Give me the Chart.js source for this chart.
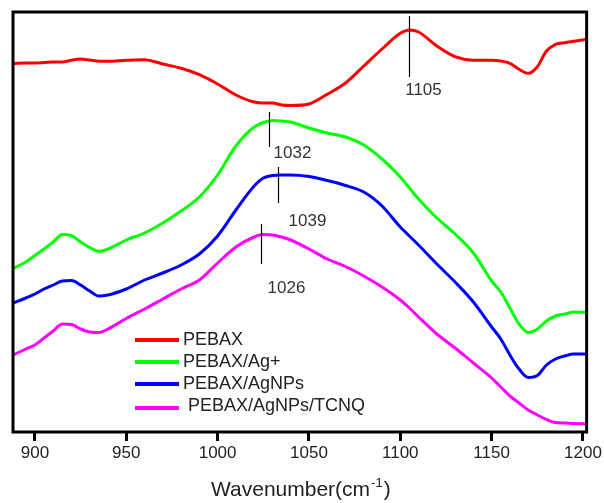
<!DOCTYPE html>
<html>
<head>
<meta charset="utf-8">
<script src="https://cdn.jsdelivr.net/npm/chart.js@4"></script>
<style>
  body { margin: 0; background: #fff; }
  #wrap { width: 604px; height: 503px; }
</style>
</head>
<body>
<div id="wrap"><canvas id="ftir" width="604" height="503"></canvas></div>
<script>
// wavenumbers (cm-1) shared by all four spectra
var wavenumbers = [888, 895, 900, 905, 910, 915, 920, 925, 930, 935, 940, 950, 960, 970, 980, 990,
  1000, 1010, 1020, 1025, 1030, 1035, 1040, 1050, 1060, 1070, 1080, 1090, 1100, 1105, 1110,
  1120, 1130, 1140, 1150, 1155, 1160, 1165, 1170, 1175, 1180, 1185, 1190, 1195, 1202];

// stacked absorbance (arb. units, offset per curve)
var pebax = [368.5, 369, 369, 369.5, 370, 370, 371.7, 373, 372, 370.7, 370.7, 371.7, 372.3, 368, 363.7, 357.3,
  348, 337, 330, 329, 329, 327, 326.5, 328, 337.7, 349, 366, 383, 398.7, 402, 400,
  386, 375.3, 371.7, 371.7, 371, 368.7, 362.7, 358.7, 365.3, 381, 387.7, 389.3, 390.7, 392.7];
var pebaxAg = [163.7, 170, 176.5, 183, 190, 197.5, 196.5, 190, 184.5, 180.5, 183, 192, 199, 209, 221, 235,
  257, 286, 305, 309.5, 311.5, 311, 310, 304, 299, 295, 287, 273, 255, 244, 233,
  214, 198, 179, 151, 140, 124, 108, 99.5, 103, 111, 116, 118, 120, 119.5];
var pebaxAgNPs = [129, 134, 138, 143, 147, 151, 151.5, 147, 141, 136, 137, 143, 152, 159, 167, 178,
  196, 222, 246, 254, 256.5, 257, 257, 255.5, 251.5, 246.5, 240, 226, 205, 196, 187,
  168, 150, 130, 105, 93, 77, 63, 54.5, 56.5, 67, 73, 76, 78, 78];
var pebaxTcnq = [77, 83, 87, 94, 101, 108, 107.5, 103, 100, 99.5, 103, 113.5, 123, 133, 143, 152,
  169, 185, 195, 197.5, 197, 195, 192, 183, 173, 165.5, 156, 145, 132, 124, 115,
  98, 84, 69, 54, 45, 36, 29, 22, 17, 12.5, 9.5, 9, 8.5, 8];

var seriesNames = ['PEBAX', 'PEBAX/Ag+', 'PEBAX/AgNPs', ' PEBAX/AgNPs/TCNQ'];
var seriesColors = ['#ff0000', '#00ff00', '#0000ff', '#ff00ff'];
var tickValues = [900, 950, 1000, 1050, 1100, 1150, 1200];

// peak markers: where the tick is drawn, its label, and the span it covers
var peakAt = [1105, 1028, 1033, 1024];
var peakLabels = ['1105', '1032', '1039', '1026'];
var peakTop = [416, 320, 265, 208];
var peakBottom = [355, 285, 229, 168];

var FONT = '"Liberation Sans", Arial, sans-serif';

function toPoints(ys) {
  return ys.map(function (y, i) { return { x: wavenumbers[i], y: y }; });
}

var allSeries = [pebax, pebaxAg, pebaxAgNPs, pebaxTcnq];
var datasets = allSeries.map(function (ys, i) {
  return {
    label: seriesNames[i],
    data: toPoints(ys),
    borderColor: seriesColors[i],
    backgroundColor: seriesColors[i],
    borderWidth: 3,
    pointRadius: 0,
    cubicInterpolationMode: 'monotone',
    fill: false
  };
});

var extras = {
  id: 'extras',
  afterDatasetsDraw: function (chart) {
    var c = chart.ctx, a = chart.chartArea;
    c.save();
    c.strokeStyle = '#000';
    c.lineWidth = 3;
    c.strokeRect(a.left, a.top, a.right - a.left, a.bottom - a.top);
    c.restore();
  },
  afterDraw: function (chart) {
    var c = chart.ctx, a = chart.chartArea;
    var xs = chart.scales.x, ys = chart.scales.y;
    c.save();

    // peak markers
    c.strokeStyle = '#000';
    c.lineWidth = 1.2;
    c.fillStyle = '#333';
    c.font = '17px ' + FONT;
    c.textAlign = 'center';
    c.textBaseline = 'middle';
    var labelDx = [14, 23, 29, 25];
    var labelDy = [13, 6, 18, 24];
    peakAt.forEach(function (w, i) {
      var px = Math.round(xs.getPixelForValue(w)) + 0.5;
      var y0 = ys.getPixelForValue(peakTop[i]);
      var y1 = ys.getPixelForValue(peakBottom[i]);
      c.beginPath();
      c.moveTo(px, y0);
      c.lineTo(px, y1);
      c.stroke();
      c.fillText(peakLabels[i], px + labelDx[i], y1 + labelDy[i]);
    });

    // legend
    var rowLine = [340, 362, 384, 408];
    var rowText = [340, 362, 384, 406];
    c.textAlign = 'left';
    c.font = '18px ' + FONT;
    c.fillStyle = '#222';
    chart.data.datasets.forEach(function (ds, i) {
      c.strokeStyle = ds.borderColor;
      c.lineWidth = 4;
      c.beginPath();
      c.moveTo(135, rowLine[i]);
      c.lineTo(179, rowLine[i]);
      c.stroke();
      c.fillText(ds.label, 183, rowText[i]);
    });

    // axis title with superscript
    var main = 'Wavenumber(cm', sup = '-1', tail = ')';
    c.textBaseline = 'alphabetic';
    c.font = '21px ' + FONT;
    var wMain = c.measureText(main).width;
    var wTail = c.measureText(tail).width;
    c.font = '13px ' + FONT;
    var wSup = c.measureText(sup).width;
    var x0 = (a.left + a.right) / 2 - (wMain + wSup + wTail) / 2;
    var base = 496;
    c.fillStyle = '#222';
    c.font = '21px ' + FONT;
    c.fillText(main, x0, base);
    c.font = '13px ' + FONT;
    c.fillText(sup, x0 + wMain + 1, base - 9);
    c.font = '21px ' + FONT;
    c.fillText(tail, x0 + wMain + wSup + 2, base);
    c.restore();
  }
};

var chart = new Chart(document.getElementById('ftir'), {
  type: 'line',
  data: { datasets: datasets },
  options: {
    responsive: false,
    animation: false,
    layout: { padding: { left: 13, right: 17, top: 12, bottom: 0 } },
    plugins: { legend: { display: false }, tooltip: { enabled: false } },
    scales: {
      x: {
        type: 'linear',
        min: 888,
        max: 1202,
        afterBuildTicks: function (s) {
          s.ticks = tickValues.map(function (v) { return { value: v }; });
        },
        afterFit: function (s) { s.height = 71; },
        border: { display: false },
        grid: {
          drawOnChartArea: false,
          drawTicks: true,
          tickLength: 9,
          tickWidth: 3,
          tickColor: '#000'
        },
        ticks: {
          autoSkip: false,
          maxRotation: 0,
          padding: 2,
          color: '#222',
          font: { family: FONT, size: 17 },
          callback: function (v) { return String(v); }
        }
      },
      y: {
        display: false,
        min: 0,
        max: 420
      }
    }
  },
  plugins: [extras]
});
</script>
</body>
</html>
